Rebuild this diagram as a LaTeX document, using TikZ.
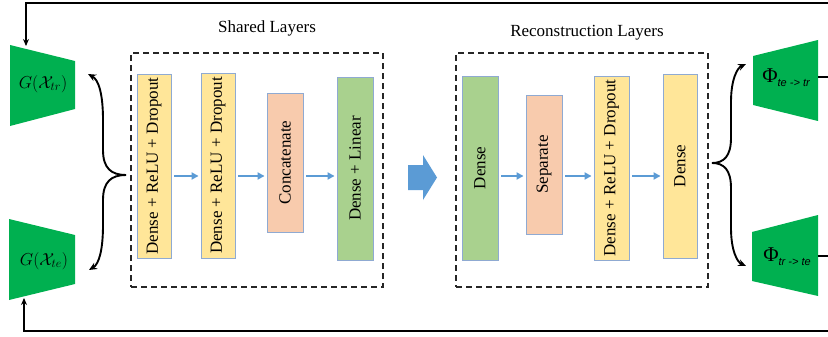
\documentclass[tikz,border=0pt]{standalone}
\usepackage{fontspec}
\setmainfont{Liberation Serif}
\newfontfamily\sfit{Liberation Sans}[ItalicFont={Liberation Sans Italic}]
\usetikzlibrary{arrows.meta,calc}
\definecolor{ylw}{RGB}{255,230,153}
\definecolor{pch}{RGB}{248,203,173}
\definecolor{grn}{RGB}{169,209,142}
\definecolor{edge}{RGB}{143,170,210}
\definecolor{dgrn}{RGB}{0,176,80}
\definecolor{blu}{RGB}{91,155,213}
\tikzset{
  layer/.style={draw=edge, line width=0.9pt, rotate=90, inner sep=0pt,
     font=\fontsize{17}{20}\selectfont},
  ybox/.style={layer, fill=ylw},
  pbox/.style={layer, fill=pch},
  gbox/.style={layer, fill=grn},
  dashbox/.style={draw=black!85, line width=1.1pt, dash pattern=on 6pt off 4pt, inner sep=0pt},
  flow/.style={draw=blu, line width=1.8pt, -{Triangle[length=7pt,width=7pt]}, shorten <=3pt, shorten >=2pt},
  title/.style={font=\fontsize{17}{20}\selectfont},
  feed/.style={line width=1.6pt, -{Stealth[length=7pt,width=6pt]}},
  brace/.style={line width=1.9pt, {Stealth[length=8pt,width=7pt]}-},
  trap/.style={fill=dgrn, draw=none},
  mlab/.style={font=\fontsize{18}{20}\selectfont},
}
\begin{document}
\begin{tikzpicture}[x=1pt,y=-1pt]
\useasboundingbox (0,0) rectangle (828,337);

% dashed groups
\node[dashbox, minimum width=252pt, minimum height=234pt] (shared) at (257,170) {};
\node[dashbox, minimum width=252pt, minimum height=234pt] (recon) at (582,170) {};
\node[title] (tshared) at (267,28) {Shared Layers};
\node[title] (trecon) at (587,33) {Reconstruction Layers};

% shared layers
\node[ybox, minimum width=184pt, minimum height=34pt] (s1) at (154,166) {Dense + ReLU + Dropout};
\node[ybox, minimum width=185pt, minimum height=34pt] (s2) at (218,165.5) {Dense + ReLU + Dropout};
\node[pbox, minimum width=139pt, minimum height=36pt] (s3) at (285,162.5) {Concatenate};
\node[gbox, minimum width=183pt, minimum height=36pt] (s4) at (355,168.5) {Dense + Linear};

% reconstruction layers
\node[gbox, minimum width=184pt, minimum height=36pt] (r1) at (480,168) {Dense};
\node[pbox, minimum width=139pt, minimum height=36pt] (r2) at (544,164.5) {Separate};
\node[ybox, minimum width=184pt, minimum height=35pt] (r3) at (611.5,168) {Dense + ReLU + Dropout};
\node[ybox, minimum width=184pt, minimum height=34pt] (r4) at (680,166) {Dense};

\coordinate (ya) at (0,176);
\draw[flow] (s1.south |- ya) -- (s2.north |- ya);
\draw[flow] (s2.south |- ya) -- (s3.north |- ya);
\draw[flow] (s3.south |- ya) -- (s4.north |- ya);
\draw[flow] (r1.south |- ya) -- (r2.north |- ya);
\draw[flow] (r2.south |- ya) -- (r3.north |- ya);
\draw[flow] (r3.south |- ya) -- (r4.north |- ya);

% big arrow
\fill[blu] (408,165) -- (423,165) -- (423,155) -- (437,177.5) -- (423,200) -- (423,190) -- (408,190) -- cycle;

% left trapezoids
\fill[trap] (10,45) -- (75,61) -- (75,109) -- (10,126) -- cycle;
\fill[trap] (9,219) -- (75,235) -- (75,284) -- (9,300) -- cycle;
\node[mlab] (gtr) at (43,84) {$G(\mathcal{X}_{tr})$};
\node[mlab] (gte) at (44,261) {$G(\mathcal{X}_{te})$};

% right trapezoids
\fill[trap] (753,56) -- (818,40) -- (818,121) -- (753,105) -- cycle;
\fill[trap] (752,232) -- (818,215) -- (818,296) -- (752,281) -- cycle;
\node (ptt) at (786,78) {\fontsize{21}{22}\selectfont Φ\raisebox{-4pt}{\fontsize{11}{13}\sfit\itshape te -> tr}};
\node (prt) at (787,257) {\fontsize{21}{22}\selectfont Φ\raisebox{-4pt}{\fontsize{11}{13}\sfit\itshape tr -> te}};

% feedback lines
\coordinate (tl) at (26,3);
\coordinate (tr) at (828,3);
\coordinate (ttop) at (26,46);
\coordinate (bl) at (24,331);
\coordinate (br) at (828,331);
\coordinate (tbot) at (24,298);
\draw[feed] (tr) -- (tl) -- (ttop);
\draw[feed] (br) -- (bl) -- (tbot);
\coordinate (o1) at (818,77);
\coordinate (o1e) at (828,77);
\coordinate (o2) at (818,256);
\coordinate (o2e) at (828,256);
\draw[line width=1.6pt] (o1) -- (o1e);
\draw[line width=1.6pt] (o2) -- (o2e);

% left brace
\coordinate (lb) at (126,175);
\coordinate (lbt) at (88,74);
\coordinate (lbb) at (89,270);
\draw[brace] (lbt) .. controls (99,80) and (103,95) .. (103,120) -- (103,150) .. controls (103,168) and (111,175) .. (lb);
\draw[brace] (lbb) .. controls (99,264) and (103,250) .. (103,225) -- (103,200) .. controls (103,182) and (111,175) .. (lb);

% right brace
\coordinate (rb) at (712,163);
\coordinate (rbt) at (746,64);
\coordinate (rbb) at (746,266);
\draw[brace] (rbt) .. controls (737,68) and (731,80) .. (731,102) -- (731,138) .. controls (731,156) and (724,163) .. (rb);
\draw[brace] (rbb) .. controls (737,262) and (731,250) .. (731,228) -- (731,188) .. controls (731,170) and (724,163) .. (rb);
\end{tikzpicture}
\end{document}
